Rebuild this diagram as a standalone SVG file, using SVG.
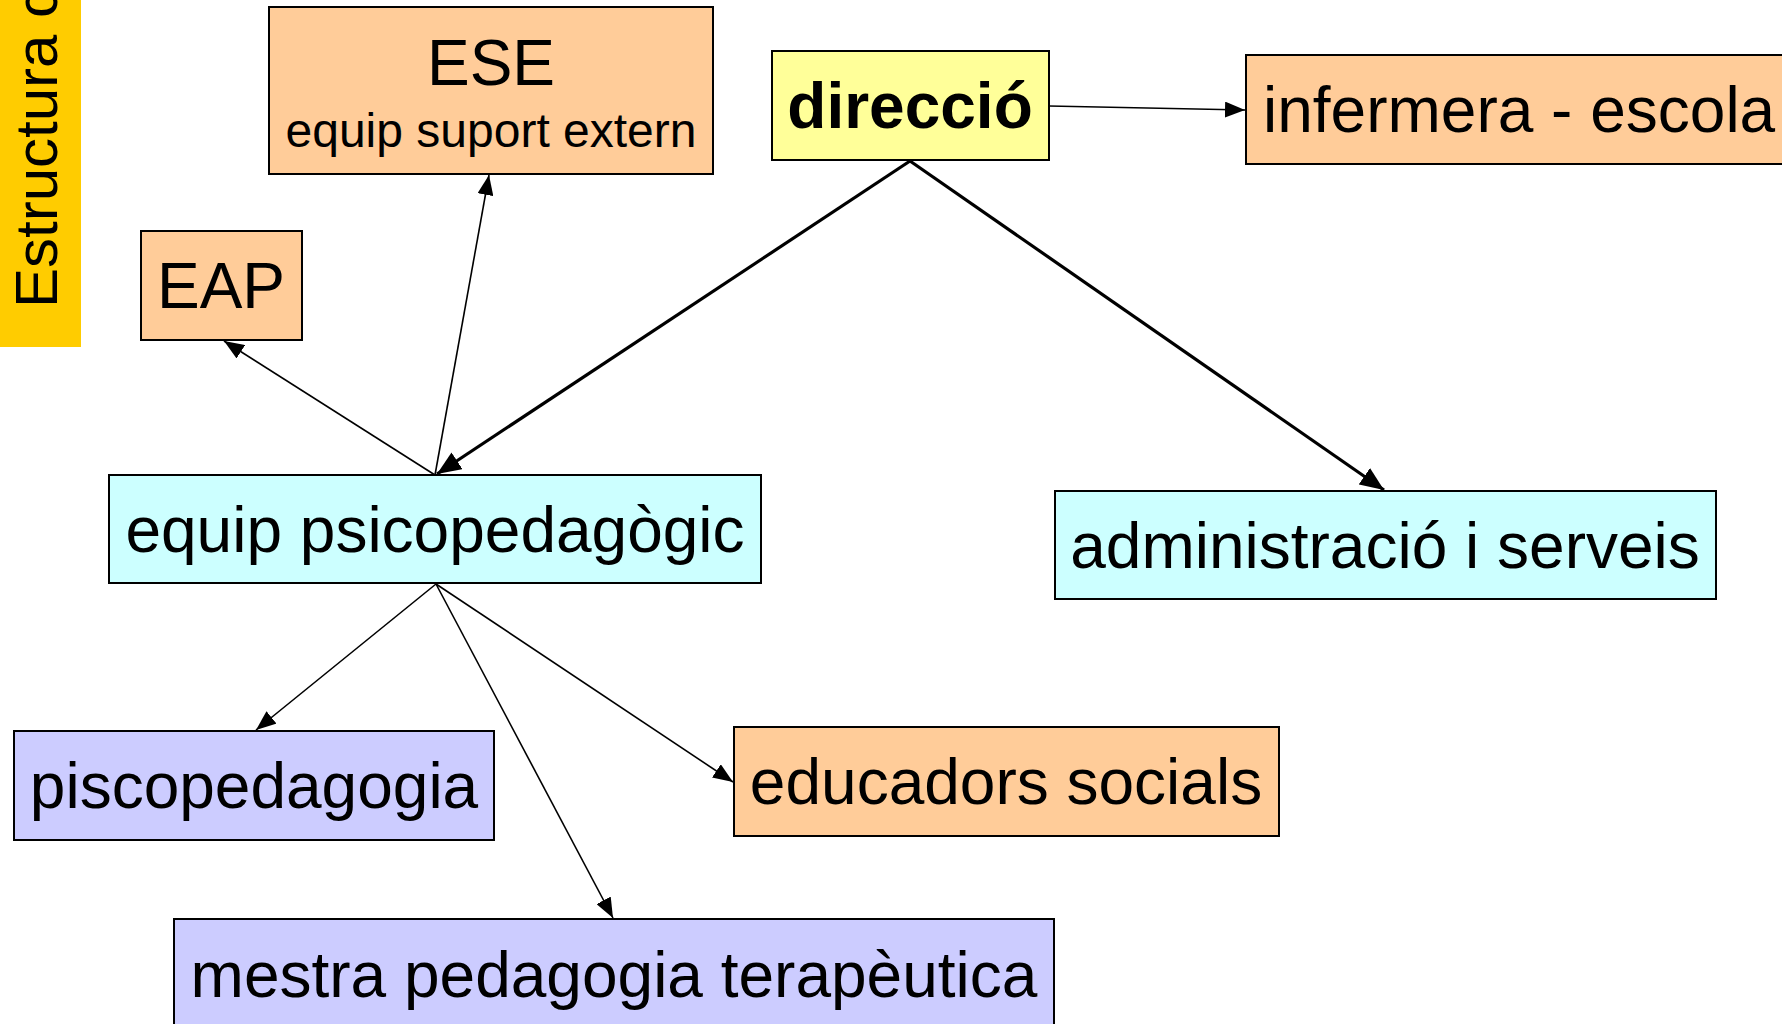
<svg xmlns="http://www.w3.org/2000/svg" width="1782" height="1024" viewBox="0 0 1782 1024">
<style>
  .box { stroke: #000; stroke-width: 2; }
  .orange { fill: #FFCC99; }
  .yellow { fill: #FFFF99; }
  .cyan { fill: #CCFFFF; }
  .lav { fill: #CCCCFF; }
  .lbl { font-family: "Liberation Sans", Arial, sans-serif; font-size: 64px; fill: #000; text-anchor: middle; }
  .sub { font-family: "Liberation Sans", Arial, sans-serif; font-size: 48px; fill: #000; text-anchor: middle; }
  .thin { stroke: #000; stroke-width: 1.6; fill: none; marker-end: url(#arr); }
  .thick { stroke: #000; stroke-width: 3.2; fill: none; marker-end: url(#arrB); }
</style>
<defs>
  <marker id="arr" markerUnits="userSpaceOnUse" markerWidth="20" markerHeight="16" refX="20" refY="8" orient="auto">
    <path d="M0,0 L20,8 L0,16 z" fill="#000"/>
  </marker>
  <marker id="arrB" markerUnits="userSpaceOnUse" markerWidth="24" markerHeight="20" refX="24" refY="10" orient="auto">
    <path d="M0,0 L24,10 L0,20 z" fill="#000"/>
  </marker>
</defs>
<rect width="1782" height="1024" fill="#fff"/>
<g id="sidebar">
  <rect x="0" y="0" width="81" height="347" fill="#FFCC00"/>
  <text transform="translate(57,308) rotate(-90)" font-family="Liberation Sans, Arial, sans-serif" font-size="60" fill="#000">Estructura c</text>
</g>
<g id="connectors">
  <line class="thin" x1="1049" y1="106" x2="1245" y2="110"/>
  <line class="thick" x1="910" y1="161" x2="437" y2="474"/>
  <line class="thick" x1="910" y1="161" x2="1384" y2="490"/>
  <line class="thin" x1="435" y1="475" x2="224" y2="341"/>
  <line class="thin" x1="435" y1="475" x2="489" y2="175"/>
  <line class="thin" x1="436" y1="584" x2="256" y2="730"/>
  <line class="thin" x1="436" y1="584" x2="613" y2="918"/>
  <line class="thin" x1="436" y1="584" x2="733" y2="782"/>
</g>
<g id="ese">
  <rect class="box orange" x="269" y="7" width="444" height="167"/>
  <text class="lbl" x="491" y="85">ESE</text>
  <text class="sub" x="491" y="147">equip suport extern</text>
</g>
<g id="direccio">
  <rect class="box yellow" x="772" y="51" width="277" height="109"/>
  <text class="lbl" x="910" y="128" font-weight="bold">direcció</text>
</g>
<g id="infermera">
  <rect class="box orange" x="1246" y="55" width="560" height="109"/>
  <text class="lbl" x="1263" y="132" text-anchor="start" style="text-anchor:start">infermera - escola</text>
</g>
<g id="eap">
  <rect class="box orange" x="141" y="231" width="161" height="109"/>
  <text class="lbl" x="221" y="308">EAP</text>
</g>
<g id="equip-psicopedagogic">
  <rect class="box cyan" x="109" y="475" width="652" height="108"/>
  <text class="lbl" x="435" y="552">equip psicopedagògic</text>
</g>
<g id="administracio">
  <rect class="box cyan" x="1055" y="491" width="661" height="108"/>
  <text class="lbl" x="1385" y="568">administració i serveis</text>
</g>
<g id="piscopedagogia">
  <rect class="box lav" x="14" y="731" width="480" height="109"/>
  <text class="lbl" x="254" y="808">piscopedagogia</text>
</g>
<g id="educadors">
  <rect class="box orange" x="734" y="727" width="545" height="109"/>
  <text class="lbl" x="1006" y="804">educadors socials</text>
</g>
<g id="mestra">
  <rect class="box lav" x="174" y="919" width="880" height="120"/>
  <text class="lbl" x="614" y="997">mestra pedagogia terapèutica</text>
</g>
</svg>
